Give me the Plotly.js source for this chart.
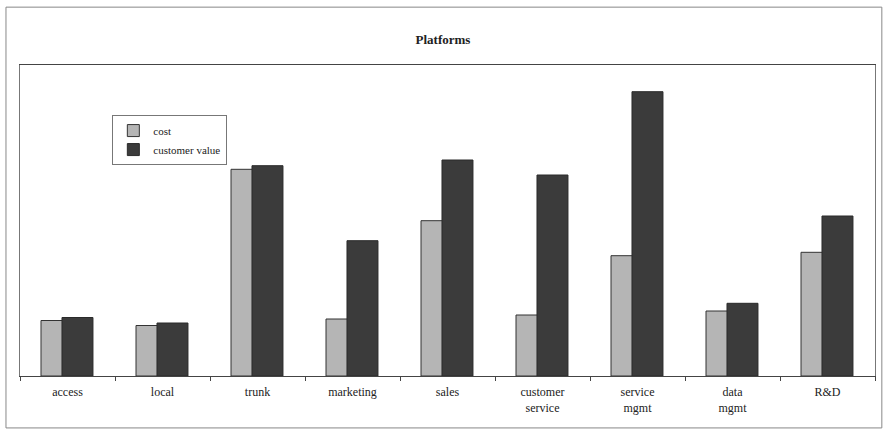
<!DOCTYPE html>
<html>
<head>
<meta charset="utf-8">
<script src="https://cdn.plot.ly/plotly-3.0.1.min.js"></script>
<style>html,body{margin:0;padding:0;background:#fff;}#chart{width:886px;height:433px;}</style>
</head>
<body>
<div id="chart"></div>
<script>
const categories = ["access", "local", "trunk", "marketing", "sales", "customer<br>service", "service<br>mgmt", "data<br>mgmt", "R&D"];
const costValues = [55.5, 50.5, 206.7, 57, 155.3, 61, 120.3, 65, 123.7];
const customerValues = [58.5, 53, 210.3, 135.3, 216, 201, 284.3, 72.7, 160];

const serif = "Liberation Serif, Times New Roman, serif";
const traces = [
  {type: "bar", name: "cost", x: categories, y: costValues,
   width: 0.326, offset: -0.279,
   marker: {color: "#b5b5b5", line: {color: "#333", width: 1}}},
  {type: "bar", name: "customer value", x: categories, y: customerValues,
   width: 0.326, offset: -0.058,
   marker: {color: "#3b3b3b", line: {color: "#2a2a2a", width: 1}}}
];
const layout = {
  width: 886, height: 433,
  margin: {l: 20, r: 11, t: 65, b: 57},
  paper_bgcolor: "#fff", plot_bgcolor: "#fff",
  barmode: "overlay",
  font: {family: serif, color: "#222", size: 12},
  title: {text: "<b>Platforms</b>", x: 0.5, xanchor: "center", y: 0.908, yanchor: "middle",
          font: {family: serif, size: 13, color: "#222"}},
  xaxis: {type: "category", range: [-0.5, 8.5], showline: true, linecolor: "#444", linewidth: 1,
          mirror: true, ticks: "outside", tickson: "boundaries", ticklen: 4, tickcolor: "#444",
          ticklabelstandoff: 5,
          tickfont: {family: serif, size: 12, color: "#222"}, showgrid: false, zeroline: false,
          fixedrange: true},
  yaxis: {range: [0, 311], showline: true, linecolor: "#777", linewidth: 1, mirror: true,
          showticklabels: false, ticks: "", showgrid: false, zeroline: false, fixedrange: true},
  legend: {x: 0.108, y: 0.839, xanchor: "left", yanchor: "top", bgcolor: "#fff",
           bordercolor: "#777", borderwidth: 1, font: {family: serif, size: 11, color: "#222"},
           tracegroupgap: 0, itemwidth: 30},
  showlegend: true,
  shapes: [
    {type: "rect", xref: "paper", yref: "paper", x0: -0.0164, x1: 1.008, y0: -0.167, y1: 1.186,
     line: {color: "#888", width: 1}, fillcolor: "rgba(0,0,0,0)"}
  ]
};
Plotly.newPlot("chart", traces, layout, {displayModeBar: false, staticPlot: true});
</script>
</body>
</html>
